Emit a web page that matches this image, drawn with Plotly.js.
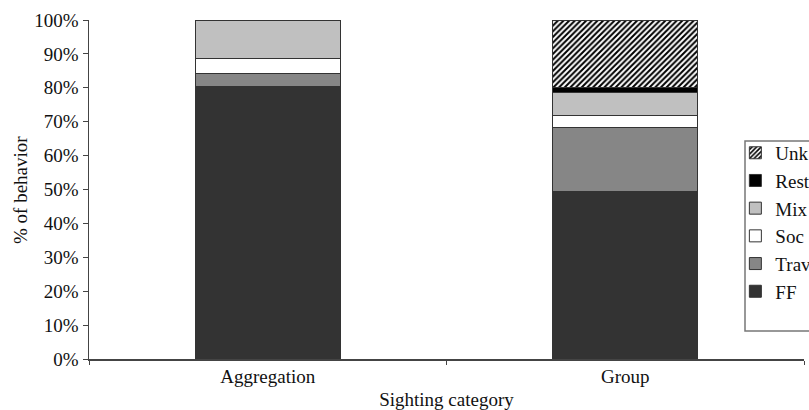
<!DOCTYPE html>
<html>
<head>
<meta charset="utf-8">
<script src="https://cdn.plot.ly/plotly-3.0.1.min.js"></script>
<style>html,body{margin:0;padding:0;background:#fff;}#chart{width:809px;height:410px;}</style>
</head>
<body>
<div id="chart"></div>
<script>
var categories = ['Aggregation', 'Group'];
var seriesNames = ['FF', 'Trav', 'Soc', 'Mix', 'Rest', 'Unk'];
var FF   = [80.5, 49.4];
var Trav = [3.7, 18.8];
var Soc  = [4.3, 3.5];
var Mix  = [11.5, 6.9];
var Rest = [0, 1.5];
var Unk  = [0, 19.9];
var yTicks = [0,10,20,30,40,50,60,70,80,90,100];
var yTitle = '% of behavior';
var xTitle = 'Sighting category';

var values = [FF, Trav, Soc, Mix, Rest, Unk];
var fills = ['#333333', '#868686', '#ffffff', '#c0c0c0', '#000000', '#ffffff'];

var traces = seriesNames.map(function (name, i) {
  var marker = {color: fills[i], line: {color: '#333333', width: 1}};
  if (name === 'Unk') {
    marker.pattern = {shape: '/', fgcolor: '#000000', bgcolor: '#ffffff', size: 4, solidity: 0.5};
  }
  return {
    type: 'bar', name: name, x: categories, y: values[i],
    width: 0.405, marker: marker, legendrank: seriesNames.length - i, hoverinfo: 'skip'
  };
});

var font = {family: 'Liberation Serif, Times New Roman, serif', size: 19, color: '#111'};

var layout = {
  width: 809, height: 410,
  margin: {l: 89, r: 5, t: 20, b: 51, autoexpand: false},
  barmode: 'stack',
  paper_bgcolor: '#fff', plot_bgcolor: '#fff',
  font: font,
  showlegend: true,
  legend: {
    x: 0.904, y: 0.664, xanchor: 'left', yanchor: 'top',
    traceorder: 'normal',
    bgcolor: 'rgba(0,0,0,0)', borderwidth: 0,
    font: font
  },
  xaxis: {
    type: 'category', range: [-0.5, 1.5],
    showline: true, linecolor: '#444', linewidth: 1.5,
    ticks: 'outside', tickson: 'boundaries', ticklen: 4, tickcolor: '#444',
    showgrid: false, zeroline: false,
    title: {text: xTitle, font: font},
    tickfont: font
  },
  yaxis: {
    range: [0, 100], tickvals: yTicks, ticktext: yTicks.map(function (v) { return v + '%'; }),
    showline: true, linecolor: '#444', linewidth: 1.5,
    ticks: 'outside', ticklen: 5, tickcolor: '#444',
    showgrid: false, zeroline: false,
    tickfont: font
  },
  annotations: [{
    text: yTitle, xref: 'paper', yref: 'paper',
    x: (20 - 89) / 715, y: (359 - 190) / 339,
    xanchor: 'center', yanchor: 'middle', textangle: -90,
    showarrow: false, font: font
  }],
  shapes: [{
    type: 'rect', xref: 'paper', yref: 'paper',
    x0: (745 - 89) / 715, x1: (830 - 89) / 715,
    y0: (359 - 331) / 339, y1: (359 - 141) / 339,
    fillcolor: '#ffffff', line: {color: '#777', width: 1.5}, layer: 'above'
  }]
};

Plotly.newPlot('chart', traces, layout, {displayModeBar: false, staticPlot: true});
</script>
</body>
</html>
